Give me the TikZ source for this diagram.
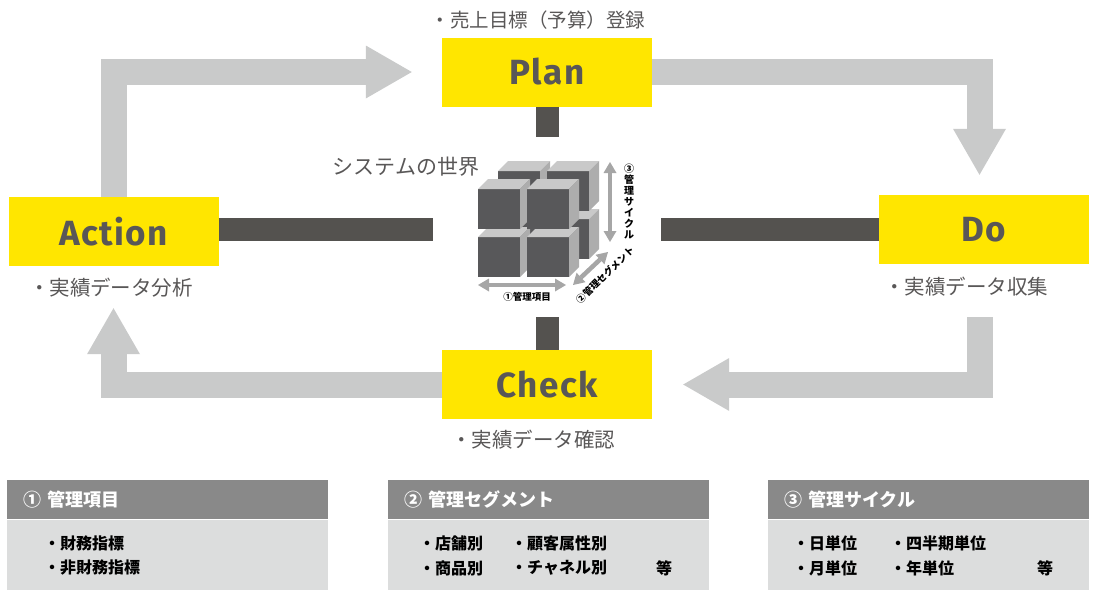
\documentclass[tikz,border=0pt]{standalone}
\usepackage{fontspec}
\setmainfont{Noto Sans CJK JP}
\newfontfamily\pdcafont[LetterSpace=4]{Fira Sans}
\usetikzlibrary{arrows.meta}

\definecolor{pdcaYellow}{HTML}{FFE600}
\definecolor{pdcaText}{HTML}{595757}
\definecolor{flowGray}{HTML}{C9CACA}
\definecolor{linkGray}{HTML}{54524F}
\definecolor{headGray}{HTML}{898989}
\definecolor{panelGray}{HTML}{DCDDDD}
\definecolor{cubeFront}{HTML}{58585A}
\definecolor{cubeTop}{HTML}{C9C9C9}
\definecolor{cubeSide}{HTML}{ADADAD}
\definecolor{measureGray}{HTML}{A6A6A6}

% one block of the data cube, front face lower-left corner at (#1,#2)
\newcommand{\unitcube}[2]{%
  \fill[cubeFront] (#1,#2) rectangle ++(42,-40);
  \fill[cubeTop] (#1,#2-40) -- ++(10,-10) -- ++(42,0) -- ++(-10,10) -- cycle;
  \fill[cubeSide] (#1+42,#2) -- ++(10,-10) -- ++(0,-40) -- ++(-10,10) -- cycle;
}

\begin{document}
\begin{tikzpicture}[x=1pt, y=-1pt,
    phase/.style={fill=pdcaYellow, minimum width=210pt, minimum height=69pt, inner sep=0pt,
      text=pdcaText, font=\pdcafont\bfseries\fontsize{35}{35}\selectfont},
    note/.style={text=pdcaText, inner sep=0pt, font=\fontsize{20.5}{21}\selectfont},
    flow/.style={line width=26pt, draw=flowGray, -{Triangle[width=53pt, length=46pt, line width=0pt]}},
    link/.style={line width=23pt, draw=linkGray},
    measure/.style={line width=4.5pt, draw=measureGray,
      {Triangle[width=13pt, length=11pt, line width=0pt]}-{Triangle[width=13pt, length=11pt, line width=0pt]}},
    tiny/.style={inner sep=0pt, font=\bfseries\fontsize{9.5}{9.5}\selectfont},
    head/.style={fill=headGray, text=white, anchor=north west, minimum height=39pt, text width=289pt,
      inner xsep=16pt, inner ysep=0pt, align=left, font=\bfseries\fontsize{18}{18}\selectfont},
    panel/.style={fill=panelGray, anchor=north west, minimum width=321pt, minimum height=70pt, inner sep=0pt},
    item/.style={anchor=west, inner sep=0pt, font=\bfseries\fontsize{16}{16}\selectfont}
]
    \useasboundingbox (0,0) rectangle (1093,590);

    % PDCA phases
    \node[phase] (plan) at (547,72) {Plan};
    \node[phase] (do) at (984,229.5) {Do};
    \node[phase] (check) at (547,384.5) {Check};
    \node[phase] (action) at (113.5,231.5) {Action};

    \node[note, font=\fontsize{19.5}{20}\selectfont] (plannote) at (538,20) {・売上目標（予算）登録};
    \node[note] (donote) at (966,287) {・実績データ収集};
    \node[note] (checknote) at (533,440) {・実績データ確認};
    \node[note] (actionnote) at (111,288) {・実績データ分析};

    % the cycle
    \draw[flow] (action.north) |- ([xshift=-30pt]plan.west);
    \draw[flow] (plan.east) -| ([xshift=-4.5pt, yshift=20pt]do.north);
    \draw[flow] ([xshift=-4.5pt, yshift=-53pt]do.south) |- ([xshift=31pt]check.east);
    \draw[flow] (check.west) -| ([yshift=-42pt]action.south);

    % links into the system
    \draw[link] (plan.south) -- ++(0,30);
    \draw[link] (check.north) -- ++(0,-33);
    \draw[link] ([yshift=2pt]action.east) -- ++(214,0);
    \draw[link] (do.west) -- ++(-218,0);

    \node[note, font=\fontsize{21}{21}\selectfont] (world) at (406,167) {システムの世界};

    % data cube, back layer first
    \foreach \dx/\dy in {20/18, 0/0}
      \foreach \y in {277, 229}
        \foreach \x in {478, 527}
          \unitcube{\x+\dx}{\y-\dy};

    \draw[measure] (478,285) -- (566,285);
    \draw[measure] (573,285) -- (608,252);
    \draw[measure] (610,162) -- (610,242);
    \node[tiny] (axisitem) at (527,297) {①管理項目};
    \node[tiny, rotate=44] (axisseg) at (605,275) {②管理セグメント};
    \node[tiny, align=center, font=\bfseries\fontsize{10}{11}\selectfont] (axiscycle) at (629,202)
      {③\\管\\理\\サ\\イ\\ク\\ル};

    % legend panels
    \node[head] (head1) at (7,480) {① 管理項目};
    \node[panel] (panel1) at (head1.south west) {};
    \node[item] (item1a) at (44,543) {・財務指標};
    \node[item] (item1b) at (44,568) {・非財務指標};

    \node[head] (head2) at (388,480) {② 管理セグメント};
    \node[panel] (panel2) at (head2.south west) {};
    \node[item] (item2a) at (419,543) {・店舗別};
    \node[item] (item2b) at (419,568) {・商品別};
    \node[item] (item2c) at (511,543) {・顧客属性別};
    \node[item] (item2d) at (511,568) {・チャネル別};
    \node[item] (item2e) at (656,568) {等};

    \node[head] (head3) at (768,480) {③ 管理サイクル};
    \node[panel] (panel3) at (head3.south west) {};
    \node[item] (item3a) at (793,543) {・日単位};
    \node[item] (item3b) at (793,568) {・月単位};
    \node[item] (item3c) at (890,543) {・四半期単位};
    \node[item] (item3d) at (890,568) {・年単位};
    \node[item] (item3e) at (1037,568) {等};
\end{tikzpicture}
\end{document}
